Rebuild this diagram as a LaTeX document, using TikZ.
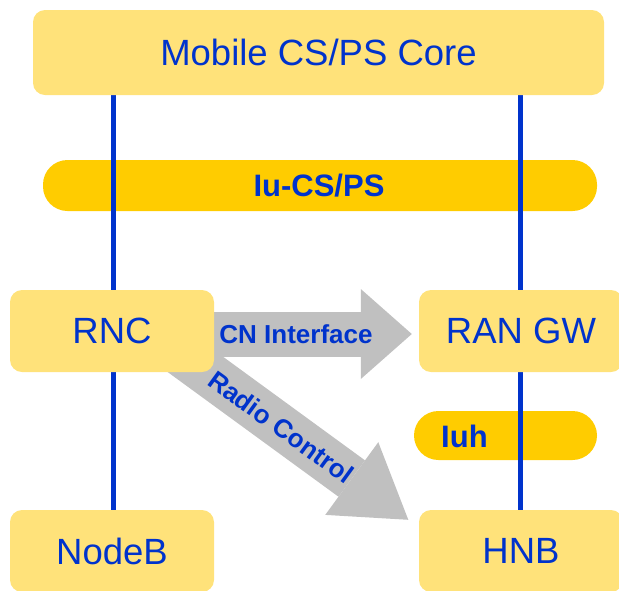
\documentclass[tikz,border=0pt]{standalone}
\usepackage{fontspec}
\setmainfont{Liberation Sans}
\usetikzlibrary{arrows.meta,backgrounds}
\definecolor{boxyellow}{RGB}{255,226,122}
\definecolor{pillgold}{RGB}{255,204,0}
\definecolor{arrowgray}{RGB}{192,192,192}
\definecolor{textblue}{RGB}{0,51,204}
\begin{document}
\begin{tikzpicture}[x=1pt,y=-1pt,
  box/.style={fill=boxyellow, rounded corners=12pt, minimum width=204pt, minimum height=82pt, inner sep=0pt, text=textblue, font=\fontsize{36.5pt}{40pt}\selectfont},
  pill/.style={fill=pillgold, rounded corners=24.5pt, inner sep=0pt},
  pilltext/.style={text=textblue, font=\fontsize{31pt}{34pt}\selectfont\bfseries, inner sep=0pt},
  vline/.style={draw=textblue, line width=5pt},
  blockarrow/.style={draw=arrowgray, line width=45pt, -{Triangle[length=#1, width=90pt, line width=0pt]}},
  arrowtext/.style={text=textblue, font=\fontsize{26pt}{29pt}\selectfont\bfseries, inner sep=0pt}
]
\useasboundingbox (0,0) rectangle (619,590);

% boxes
\node[box, minimum width=571pt, minimum height=85pt] (core) at (318.5,52.5) {Mobile CS/PS Core};
\node[box] (rnc) at (112,331) {RNC};
\node[box] (rangw) at (521,331) {RAN GW};
\node[box] (nodeb) at (112,551) {NodeB};
\node[box] (hnb) at (521,551) {HNB};

\coordinate (rcstart) at (150.7,331.8);

\begin{pgfonlayer}{background}
  % interface pills
  \node[pill, minimum width=554pt, minimum height=51pt] (iucs) at (320,185.5) {};
  \node[pill, minimum width=183pt, minimum height=49pt] (iuh) at (505.5,435.5) {};
  % vertical links
  \draw[vline] ([xshift=1.5pt]core.south -| rnc.center) -- ([xshift=1.5pt]nodeb.north);
  \draw[vline] ([xshift=-0.7pt]core.south -| hnb.center) -- ([xshift=-0.7pt]hnb.north);
  % block arrows
  \draw[blockarrow=51pt] ([yshift=-3pt]rnc.center) -- ([xshift=-7pt,yshift=-3pt]rangw.west);
  \draw[blockarrow=70pt] (rcstart) -- ([xshift=-10.5pt,yshift=-10pt]hnb.north west);
\end{pgfonlayer}

% labels
\node[pilltext] (iucslabel) at (319,186) {Iu-CS/PS};
\node[pilltext, anchor=west] (iuhlabel) at (441,436) {Iuh};
\node[arrowtext] (cnlabel) at (296,334) {CN Interface};
\node[arrowtext, rotate=-36] (rclabel) at (281,427) {Radio Control};
\end{tikzpicture}
\end{document}
